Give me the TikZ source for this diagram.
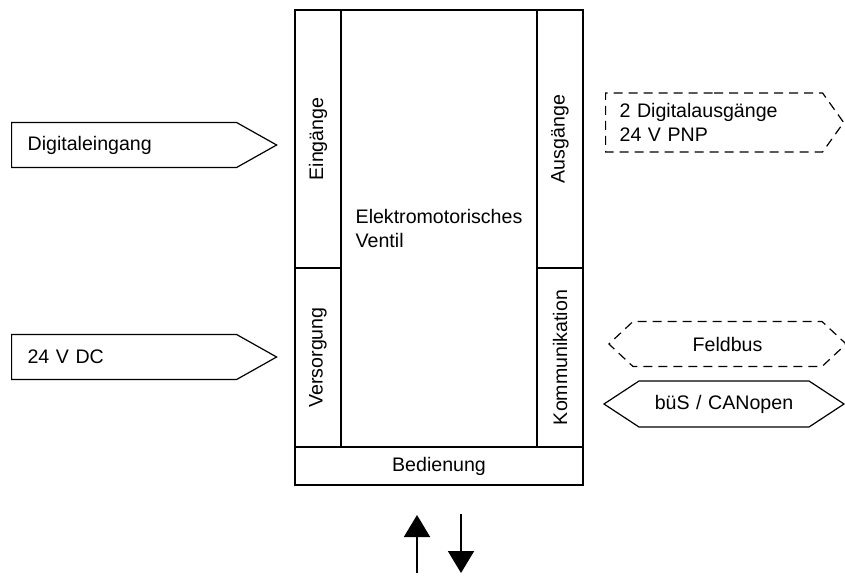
\documentclass[tikz,border=0pt]{standalone}
\usepackage{fontspec}
\setmainfont{Liberation Sans}
\usetikzlibrary{shapes.symbols, arrows.meta, positioning}
\tikzset{
    x=1pt, y=-1pt, % one unit per pixel, y pointing down
    every node/.style={font=\fontsize{19.6pt}{23.5pt}\selectfont}, % text size for all nodes
    block/.style={draw, line width=1.2pt, inner sep=0pt}, % the parts of the valve
    column/.style={block, rotate=90, minimum height=46pt}, % narrow parts with upright text
    port/.style={signal, draw, line width=1.2pt, inner ysep=0pt}, % arrow shaped signals
    inport/.style={port, signal to=east, signal pointer angle=58.7, minimum height=45pt,
                   text width=193pt, inner xsep=16pt, align=left, anchor=west},
    option/.style={dash pattern=on 9pt off 6pt}, % optional signals are dashed
    flow/.style={line width=2pt, -{Triangle[width=26pt, length=22pt]}}, % arrows at the bottom
}

\begin{document}
\begin{tikzpicture}
        \useasboundingbox (0,0) rectangle (845,575);

        % valve block
        % \node[<options>] (name) {text label};
        \node[block, minimum width=196pt, minimum height=437pt, align=left] (CORE) at (439,228.5) {Elektromotorisches\\Ventil};
        \node[column, minimum width=258pt] (EIN)  at (318,139)   {Eingänge};
        \node[column, minimum width=179pt] (VERS) at (318,357.5) {Versorgung};
        \node[column, minimum width=258pt] (AUS)  at (560,139)   {Ausgänge};
        \node[column, minimum width=179pt] (KOMM) at (560,357.5) {Kommunikation};
        \node[block, minimum width=288pt, minimum height=38pt] (BED) at (439,466) {Bedienung};

        % signals left
        \node[inport] (DIN) at (11,145) {Digitaleingang};
        \node[inport] (DC)  at (11,357) {24 V DC};

        % signals right
        \node[port, option, signal to=east, signal pointer angle=109, minimum height=59pt,
              text width=189pt, inner xsep=14pt, align=left, anchor=west] (DOUT) at (605,122.5) {2 Digitalausgänge\\24 V PNP};
        \node[port, option, signal to=west and east, signal pointer angle=86,
              minimum height=45pt, text width=161pt, inner xsep=14pt, align=center] (FB) at (727.5,344) {Feldbus};
        \node[port, signal to=west and east, signal pointer angle=66.6,
              minimum height=46pt, text width=150pt, inner xsep=10pt, align=center] (BUS) at (724,404) {büS / CANopen};

        % operation arrows
        \coordinate (UPa)   at (417,573);
        \coordinate (UPb)   at (417,515);
        \coordinate (DOWNa) at (461,514);
        \coordinate (DOWNb) at (461,573);
        \draw[flow] (UPa) -- (UPb);
        \draw[flow] (DOWNa) -- (DOWNb);
\end{tikzpicture}
\end{document}
